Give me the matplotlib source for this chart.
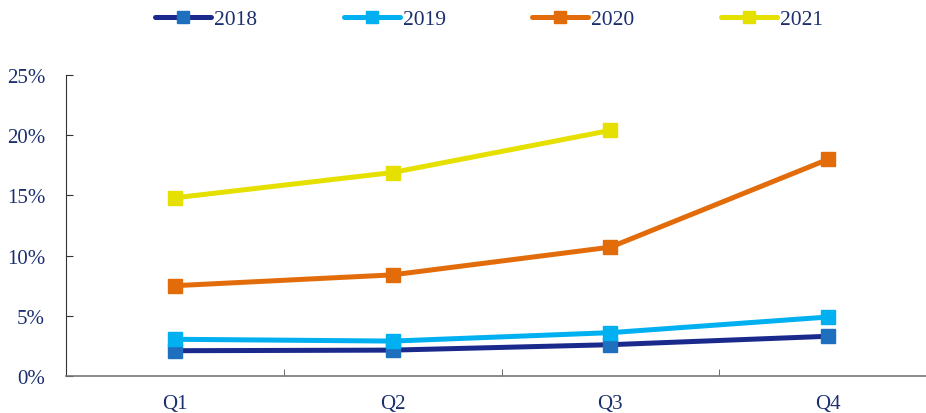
import matplotlib
matplotlib.use('Agg')
import matplotlib.pyplot as plt
from matplotlib.ticker import FuncFormatter, FixedLocator

quarters = ['Q1', 'Q2', 'Q3', 'Q4']
y2018 = [2.1, 2.15, 2.6, 3.3]
y2019 = [3.05, 2.9, 3.6, 4.9]
y2020 = [7.5, 8.4, 10.7, 18.0]
y2021 = [14.8, 16.9, 20.4]

text_color = '#1b2f6e'
plt.rcParams['font.family'] = ['Liberation Serif', 'DejaVu Serif']

fig = plt.figure(figsize=(9.26, 4.14), dpi=100)
ax = fig.add_axes([66/926, 1-377/414, (937-66)/926, (377-76)/414])

x = list(range(len(quarters)))
series = [
    ('2018', y2018, '#1a2a8c', '#1f6fbf'),
    ('2019', y2019, '#00b0f0', '#00b0f0'),
    ('2020', y2020, '#e36c0a', '#e36c0a'),
    ('2021', y2021, '#e6e000', '#e6e000'),
]
for name, vals, lc, mc in series:
    ax.plot(x[:len(vals)], vals, color=lc, lw=3.6, marker='s', ms=10,
            mfc=mc, mec=mc, label=name, solid_capstyle='round')

ax.set_xlim(-0.5, 3.5)
ax.set_ylim(0, 25)
ax.set_yticks([0, 5, 10, 15, 20, 25])
ax.yaxis.set_major_formatter(FuncFormatter(lambda v, p: '%d%%' % v))
ax.set_xticks(x)
ax.set_xticklabels(quarters)
ax.xaxis.set_minor_locator(FixedLocator([0.5, 1.5, 2.5]))
ax.tick_params(axis='x', which='major', length=0, pad=13, labelsize=15, labelcolor=text_color)
ax.tick_params(axis='x', which='minor', direction='in', length=5, color='#555555')
ax.tick_params(axis='y', direction='in', length=5, color='#333333', pad=15,
               labelsize=15, labelcolor=text_color)
for s in ['top', 'right']:
    ax.spines[s].set_visible(False)
ax.spines['left'].set_color('#333333')
ax.spines['bottom'].set_color('#777777')
ax.spines['bottom'].set_linewidth(1.2)

fig.legend(loc='center', bbox_to_anchor=(489/926, 1-20/414), ncol=4, frameon=False,
           fontsize=15.5, handlelength=2.6, columnspacing=4.0, handletextpad=0.15,
           labelcolor=text_color, markerscale=0.9)

fig.savefig('out.png', dpi=100)
